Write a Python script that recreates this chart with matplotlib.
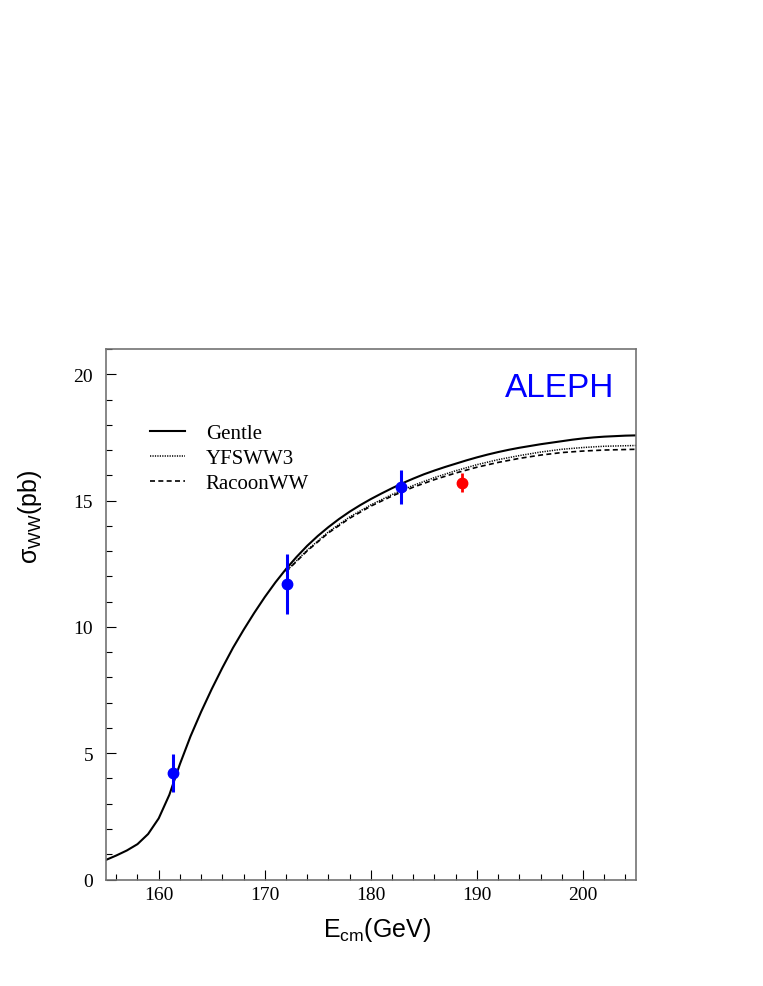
import matplotlib
matplotlib.use("Agg")
import matplotlib.pyplot as plt
from matplotlib.lines import Line2D
from matplotlib.ticker import MultipleLocator

plt.rcParams['mathtext.fontset'] = 'custom'
plt.rcParams['mathtext.rm'] = 'Liberation Sans'
plt.rcParams['mathtext.it'] = 'Liberation Sans:italic'

# theory curves (sigma_WW in pb vs E_cm in GeV)
e_gentle = list(range(155, 206))
s_gentle = [0.77, 0.95, 1.15, 1.40, 1.80, 2.42, 3.35, 4.57, 5.67, 6.64,
            7.54, 8.38, 9.17, 9.88, 10.55, 11.18, 11.76, 12.29, 12.77, 13.21,
            13.60, 13.95, 14.27, 14.56, 14.82, 15.06, 15.28, 15.49, 15.69, 15.87,
            16.04, 16.19, 16.33, 16.46, 16.59, 16.71, 16.82, 16.92, 17.01, 17.09,
            17.16, 17.23, 17.29, 17.35, 17.41, 17.46, 17.50, 17.53, 17.55, 17.57,
            17.58]

e_yfs = [172, 174, 176, 178, 180, 182, 184, 186, 188, 190, 192, 194, 196, 198, 200, 202, 204, 205]
s_yfs = [12.20, 13.04, 13.76, 14.35, 14.83, 15.24, 15.60, 15.91, 16.18, 16.42,
         16.62, 16.78, 16.92, 17.03, 17.10, 17.15, 17.17, 17.18]

e_racoon = [172, 174, 176, 178, 180, 182, 184, 186, 188, 190, 192, 194, 196, 198, 200, 202, 204, 205]
s_racoon = [12.18, 13.01, 13.72, 14.30, 14.78, 15.18, 15.53, 15.83, 16.09, 16.32,
            16.51, 16.67, 16.80, 16.90, 16.96, 17.00, 17.02, 17.03]

# ALEPH measurements
e_meas = [161.3, 172.1, 182.8]
s_meas = [4.23, 11.70, 15.55]
err_meas = [0.75, 1.20, 0.67]

e_new = [188.6]
s_new = [15.71]
err_new = [0.38]

fig = plt.figure(figsize=(7.63, 9.87), dpi=100)
ax = fig.add_axes([0.1385, 0.1079, 0.6951, 0.5375])

ax.plot(e_gentle, s_gentle, color='black', lw=1.5, ls='-')
ax.plot(e_yfs, s_yfs, color='black', lw=1.1, ls=(0, (0.8, 0.8)))
ax.plot(e_racoon, s_racoon, color='black', lw=1.2, ls=(0, (3, 2)))

ax.errorbar(e_meas, s_meas, yerr=err_meas, fmt='o', color='#0000ff',
            ms=7.5, elinewidth=2.2, capsize=0, zorder=5)
ax.errorbar(e_new, s_new, yerr=err_new, fmt='o', color='#ff0000',
            ms=7.5, elinewidth=2.0, capsize=0, zorder=5)

ax.set_xlim(155, 205)
ax.set_ylim(0, 21)
ax.xaxis.set_major_locator(MultipleLocator(10))
ax.xaxis.set_minor_locator(MultipleLocator(2))
ax.yaxis.set_major_locator(MultipleLocator(5))
ax.yaxis.set_minor_locator(MultipleLocator(1))

for s in ax.spines.values():
    s.set_color('0.45')
    s.set_linewidth(1.2)
ax.tick_params(which='both', direction='in', top=False, right=False, color='black', width=0.8)
ax.tick_params(which='major', length=7)
ax.tick_params(which='minor', length=4)
ax.tick_params(axis='y', which='major', pad=9)
ax.tick_params(axis='x', which='major', pad=5)
for lab in ax.get_xticklabels() + ax.get_yticklabels():
    lab.set_fontfamily('Liberation Serif')
    lab.set_fontsize(14)

ax.set_xlabel('E$_{\\mathrm{cm}}$(GeV)', fontsize=18, fontfamily='Liberation Sans', va='baseline')
ax.xaxis.set_label_coords(0.511, -0.106)
ax.set_ylabel('σ$_{\\mathrm{WW}}$(pb)', fontsize=18, fontfamily='Liberation Sans')
ax.yaxis.set_label_coords(-0.116, 0.686)

ax.text(0.753, 0.912, 'ALEPH', transform=ax.transAxes, color='#0000ff',
        fontsize=24, fontfamily='Liberation Sans', va='baseline', ha='left')

handles = [Line2D([], [], color='black', lw=1.5, ls='-'),
           Line2D([], [], color='black', lw=1.1, ls=(0, (0.8, 0.8))),
           Line2D([], [], color='black', lw=1.2, ls=(0, (3, 2)))]
ax.legend(handles, ['Gentle', 'YFSWW3', 'RacoonWW'], loc='upper left',
          bbox_to_anchor=(0.0835, 0.859), frameon=False, borderpad=0, borderaxespad=0,
          handlelength=1.68, handletextpad=1.0, labelspacing=0.25,
          prop={'family': 'Liberation Serif', 'size': 15})

fig.savefig('out.png', dpi=100)
